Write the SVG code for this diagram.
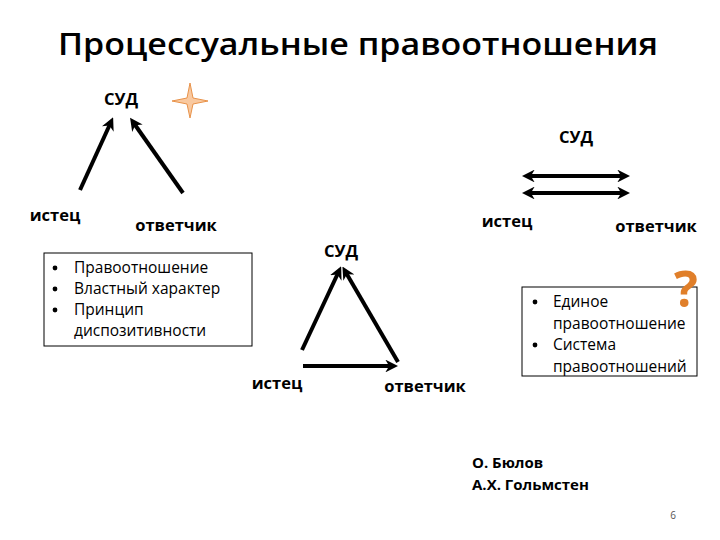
<svg xmlns="http://www.w3.org/2000/svg" width="720" height="540" viewBox="0 0 720 540">
<defs>
<style>
text{font-family:"Open Sans","Liberation Sans",sans-serif;fill:#000}
.t{font-size:30px;font-weight:600}
.l{font-size:16.5px;font-weight:bold}
.a{font-size:15px;font-weight:bold}
.b{font-size:15.5px}
.c{stroke:#000;stroke-width:4;fill:none}
.box{fill:#fff;stroke:#000;stroke-width:1}
.dot{fill:#000}
</style>
<marker id="ah" viewBox="0 0 10 10" refX="6" refY="5" markerWidth="3.2" markerHeight="3.2" orient="auto-start-reverse" markerUnits="strokeWidth">
<path d="M0,0 L10,5 L0,10 L3,5 z" fill="#000"/>
</marker>
</defs>
<rect width="720" height="540" fill="#fff"/>
<text class="t" x="358" y="55" text-anchor="middle" textLength="600" lengthAdjust="spacingAndGlyphs">Процессуальные правоотношения</text>

<g id="connectors">
<line class="c" x1="80" y1="190" x2="111" y2="122" marker-end="url(#ah)"/>
<line class="c" x1="183" y1="193" x2="133" y2="122" marker-end="url(#ah)"/>
<line class="c" x1="527" y1="176" x2="625" y2="176" marker-start="url(#ah)" marker-end="url(#ah)"/>
<line class="c" x1="527" y1="193" x2="625" y2="193" marker-start="url(#ah)" marker-end="url(#ah)"/>
<line class="c" x1="302" y1="350" x2="339" y2="271" marker-end="url(#ah)"/>
<line class="c" x1="398" y1="362" x2="345" y2="271" marker-end="url(#ah)"/>
<line class="c" x1="303" y1="366" x2="393" y2="366" marker-end="url(#ah)"/>
</g>

<g id="star">
<path d="M190,83 L193,98 L208,101 L193,104 L190,118 L187,104 L172,101 L187,98 Z" fill="#f9c9a0" stroke="#e8924a" stroke-width="1"/>
</g>

<g id="sud1"><text class="l" x="121" y="105" text-anchor="middle">СУД</text></g>
<g id="istec1"><text class="l" x="55" y="221" text-anchor="middle">истец</text></g>
<g id="otv1"><text class="l" x="176" y="231" text-anchor="middle">ответчик</text></g>

<g id="sud2"><text class="l" x="576" y="143" text-anchor="middle">СУД</text></g>
<g id="istec2"><text class="l" x="507" y="227" text-anchor="middle">истец</text></g>
<g id="otv2"><text class="l" x="656" y="232" text-anchor="middle">ответчик</text></g>

<g id="sud3"><text class="l" x="341" y="257" text-anchor="middle">СУД</text></g>
<g id="istec3"><text class="l" x="277" y="389" text-anchor="middle">истец</text></g>
<g id="otv3"><text class="l" x="425" y="392" text-anchor="middle">ответчик</text></g>

<g id="box1">
<rect class="box" x="44" y="253" width="208" height="93"/>
<circle class="dot" cx="55" cy="268" r="2.4"/><text class="b" x="74" y="273">Правоотношение</text>
<circle class="dot" cx="55" cy="289" r="2.4"/><text class="b" x="74" y="294">Властный характер</text>
<circle class="dot" cx="55" cy="310" r="2.4"/><text class="b" x="74" y="315">Принцип</text>
<text class="b" x="74" y="336">диспозитивности</text>
</g>

<g id="box2">
<rect class="box" x="522" y="287" width="175" height="89"/>
<circle class="dot" cx="535" cy="302" r="2.4"/><text class="b" x="553" y="307">Единое</text>
<text class="b" x="553" y="329">правоотношение</text>
<circle class="dot" cx="535" cy="345" r="2.4"/><text class="b" x="553" y="350">Система</text>
<text class="b" x="553" y="372">правоотношений</text>
</g>

<g id="question"><text x="686" y="307" text-anchor="middle" style="font-size:50px;font-weight:bold;fill:#e07f2a">?</text></g>

<g id="authors">
<text class="a" x="472" y="468">О. Бюлов</text>
<text class="a" x="472" y="490">А.Х. Гольмстен</text>
</g>
<text x="673" y="519" text-anchor="middle" style="font-size:10px;fill:#555">6</text>
</svg>
